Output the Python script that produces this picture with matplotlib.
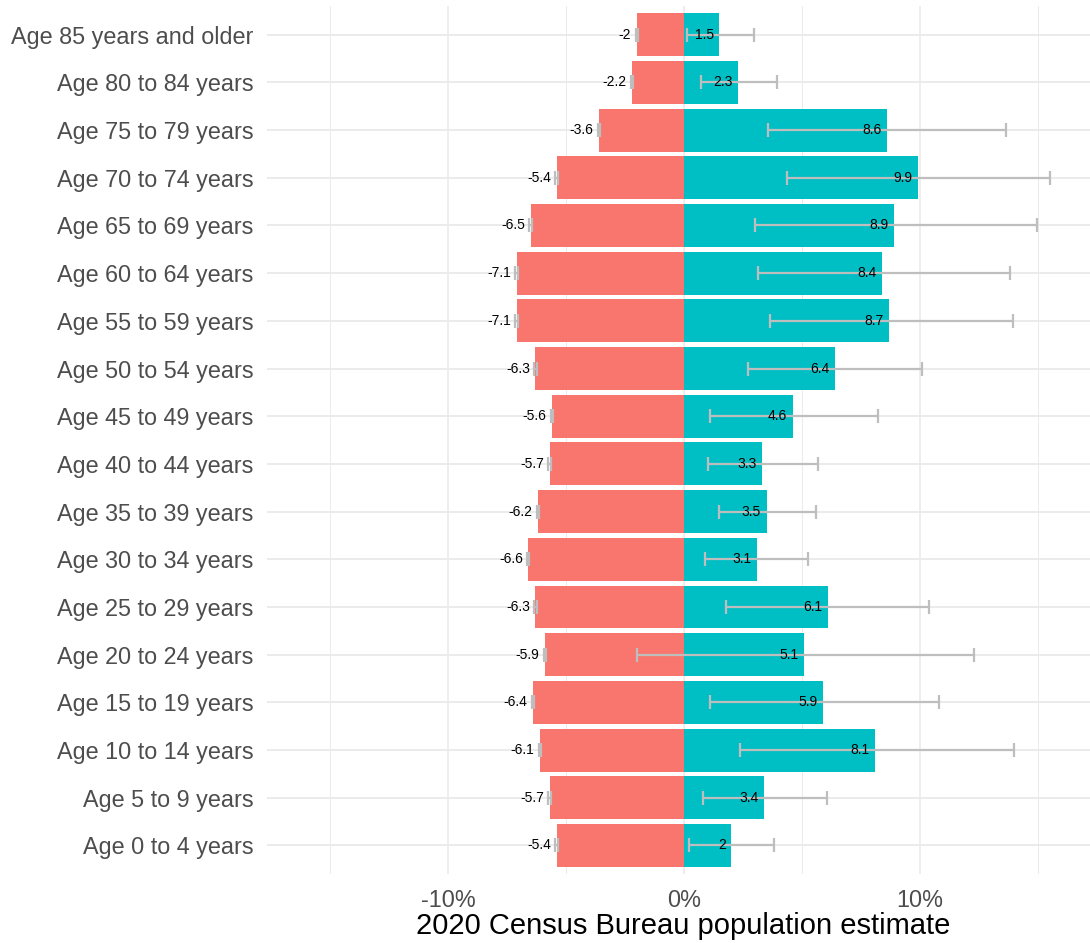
import matplotlib
matplotlib.use("Agg")
import matplotlib.pyplot as plt
import numpy as np

plt.rcParams["font.family"] = ["Liberation Sans", "DejaVu Sans"]

# ── Data (top row first) ──────────────────────────────────────────────────────
AGE_GROUPS = [
    "Age 85 years and older", "Age 80 to 84 years", "Age 75 to 79 years",
    "Age 70 to 74 years", "Age 65 to 69 years", "Age 60 to 64 years",
    "Age 55 to 59 years", "Age 50 to 54 years", "Age 45 to 49 years",
    "Age 40 to 44 years", "Age 35 to 39 years", "Age 30 to 34 years",
    "Age 25 to 29 years", "Age 20 to 24 years", "Age 15 to 19 years",
    "Age 10 to 14 years", "Age 5 to 9 years", "Age 0 to 4 years",
]
LEFT_VALUES = [-2, -2.2, -3.6, -5.4, -6.5, -7.1, -7.1, -6.3, -5.6,
               -5.7, -6.2, -6.6, -6.3, -5.9, -6.4, -6.1, -5.7, -5.4]
LEFT_ERR = [0.05] * 18
RIGHT_VALUES = [1.5, 2.3, 8.6, 9.9, 8.9, 8.4, 8.7, 6.4, 4.6,
                3.3, 3.5, 3.1, 6.1, 5.1, 5.9, 8.1, 3.4, 2]
RIGHT_LOW = [0.14, 0.72, 3.57, 4.35, 3.01, 3.15, 3.64, 2.72, 1.10,
             1.03, 1.50, 0.89, 1.77, -1.98, 1.10, 2.39, 0.82, 0.21]
RIGHT_HIGH = [2.98, 3.92, 13.64, 15.51, 14.96, 13.81, 13.93, 10.07, 8.23,
              5.69, 5.59, 5.27, 10.39, 12.30, 10.82, 13.97, 6.07, 3.81]

RED = "#F8766D"
TEAL = "#00BFC4"
ERR_GREY = "#BEBEBE"
GRID = "#EBEBEB"

n = len(AGE_GROUPS)
y = np.arange(n)[::-1]  # top row highest

fig = plt.figure(figsize=(10.9, 9.43), dpi=100)
ax = fig.add_axes([0.245, 0.0731, 0.755, 0.9205])

# grid
for v in [-10, 0, 10]:
    ax.axvline(v, color=GRID, lw=1.2, zorder=0)
for v in [-15, -5, 5, 15]:
    ax.axvline(v, color=GRID, lw=0.7, zorder=0)
for yy in y:
    ax.axhline(yy, color=GRID, lw=1.4, zorder=0)

ax.barh(y, LEFT_VALUES, height=0.9, color=RED, zorder=2)
ax.barh(y, RIGHT_VALUES, height=0.9, color=TEAL, zorder=2)

rv = np.array(RIGHT_VALUES)
xerr_r = [rv - np.array(RIGHT_LOW), np.array(RIGHT_HIGH) - rv]
ax.errorbar(RIGHT_VALUES, y, xerr=xerr_r, fmt="none", ecolor=ERR_GREY,
            elinewidth=1.6, capsize=4.7, capthick=1.6, zorder=3)
ax.errorbar(LEFT_VALUES, y, xerr=LEFT_ERR, fmt="none", ecolor=ERR_GREY,
            elinewidth=1.6, capsize=4.7, capthick=1.6, zorder=3)

for yy, v in zip(y, LEFT_VALUES):
    ax.annotate(f"{v:g}", xy=(v, yy), xytext=(-4, 0), textcoords="offset points",
                ha="right", va="center", fontsize=10, color="black", zorder=4)
for yy, v in zip(y, RIGHT_VALUES):
    ax.annotate(f"{v:g}", xy=(v, yy), xytext=(-4, 0), textcoords="offset points",
                ha="right", va="center", fontsize=10, color="black", zorder=4)

ax.set_xlim(-17.67, 17.2)
ax.set_ylim(-0.6, n - 0.4)
ax.set_yticks(y)
ax.set_yticklabels(AGE_GROUPS, fontsize=16.8, color="#4D4D4D")
ax.set_xticks([-10, 0, 10])
ax.set_xticklabels(["-10%", "0%", "10%"], fontsize=16.8, color="#4D4D4D")
ax.tick_params(axis="both", length=0)
ax.tick_params(axis="y", pad=10)
ax.tick_params(axis="x", pad=11)
for s in ax.spines.values():
    s.set_visible(False)

fig.text(683 / 1090, 1 - 926 / 943, "2020 Census Bureau population estimate",
         fontsize=21, color="black", ha="center", va="center")

fig.savefig("out.png", dpi=100)
